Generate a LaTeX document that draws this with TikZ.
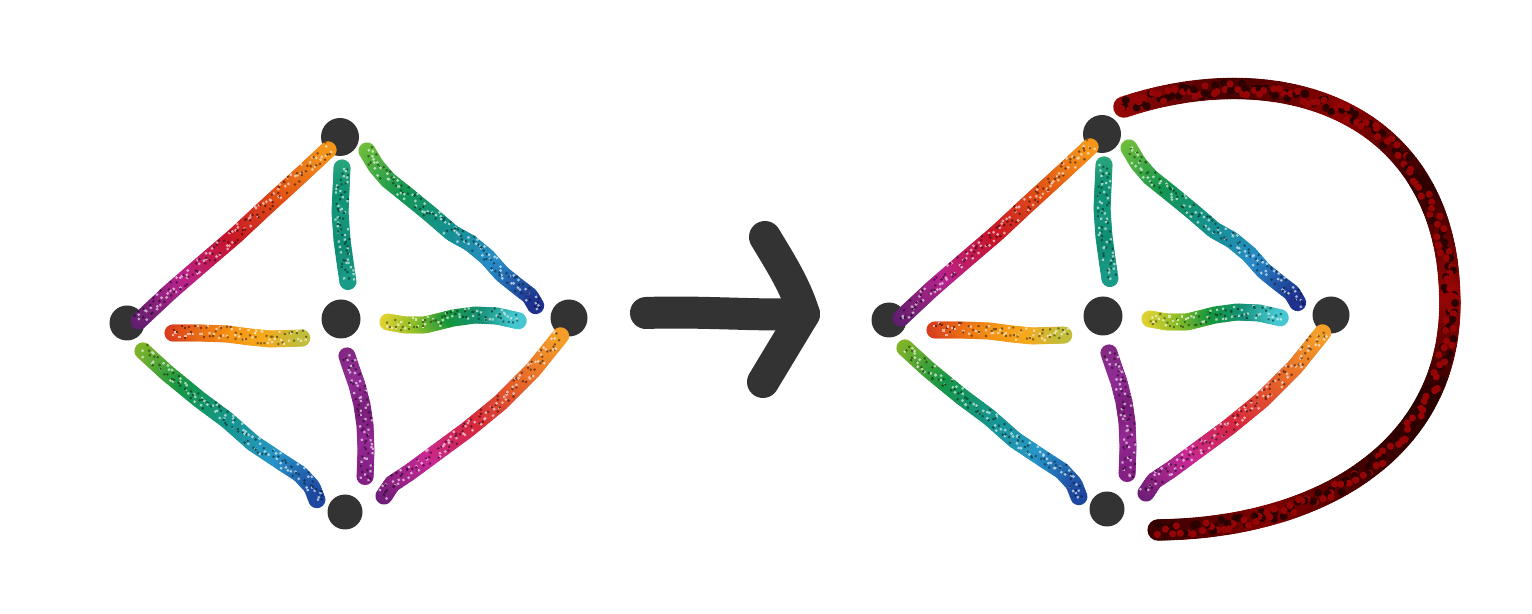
\documentclass[tikz,border=0pt]{standalone}
\usetikzlibrary{decorations.markings}
\definecolor{ink}{RGB}{51,51,51}
\definecolor{blobdark}{RGB}{45,0,0}
\definecolor{blobred}{RGB}{150,5,5}
\pgfmathsetseed{42}
\def\gcol{%
 \pgfmathsetmacro\gf{4*\pgfkeysvalueof{/pgf/decoration/mark info/distance from start}/\pgfdecoratedpathlength}%
 \pgfmathtruncatemacro\gi{min(\gf,3.999)}%
 \pgfmathsetmacro\gp{max(0,min(100,100-100*(\gf-\gi)))}%
 \ifcase\gi \colorlet{gc}{gA!\gp!gB}\or \colorlet{gc}{gB!\gp!gC}\or \colorlet{gc}{gC!\gp!gD}\or \colorlet{gc}{gD!\gp!gE}\fi}
\tikzset{
 vtx/.style={circle,fill=ink,inner sep=0pt,minimum size=#1},
 grad/.code n args={5}{\definecolor{gA}{RGB}{#1}\definecolor{gB}{RGB}{#2}\definecolor{gC}{RGB}{#3}\definecolor{gD}{RGB}{#4}\definecolor{gE}{RGB}{#5}},
 gw/.code={\def\gr{#1}},
 gw=4.3pt,
 glit/.style={decoration={markings,
   mark=between positions 0 and 1 step 1.5pt with {\gcol\fill[gc] (0pt,0pt) circle[radius=\gr];}},decorate},
 speck/.style={decoration={markings,
   mark=between positions 0 and 1 step 1.6pt with {\gcol
     \fill[gc!40!white] ({rand*1pt},{rand*3.3pt}) rectangle ++(1.1pt,1.1pt);
     \fill[gc!55!black] ({rand*1pt},{rand*3.3pt}) rectangle ++(1pt,1pt);}},decorate},
 mottle/.style={decoration={markings,
   mark=between positions 0 and 1 step 3pt with {%
     \fill[blobdark] ({rand*1.5pt},{rand*3pt}) circle[radius=2pt];
     \fill[blobred] ({rand*1.5pt},{rand*3pt}) circle[radius=1.8pt];}},decorate},
 edge/.style n args={5}{grad={#1}{#2}{#3}{#4}{#5},postaction={glit},postaction={speck}},
 redarc/.style n args={5}{grad={#1}{#2}{#3}{#4}{#5},gw=5.4pt,postaction={glit},postaction={mottle}},
 arrowink/.style={draw=ink,line width=16pt,line cap=round,line join=round}
}
\newcommand\onegraph[1]{%
 \node[vtx=19pt] (#1t) at (340,137) {};
 \node[vtx=17.5pt] (#1l) at (127,323) {};
 \node[vtx=19.5pt] (#1c) at (341,319) {};
 \node[vtx=18.5pt] (#1r) at (569,318) {};
 \node[vtx=17.5pt] (#1b) at (345,512) {};
 \coordinate (#1e1s) at (139,321); \coordinate (#1e1e) at (329,149);
 \coordinate (#1e2s) at (342,168); \coordinate (#1e2e) at (348,282);
 \coordinate (#1e3s) at (367,151); \coordinate (#1e3e) at (537,308);
 \coordinate (#1e4s) at (173,333); \coordinate (#1e4e) at (304,338);
 \coordinate (#1e5s) at (388,322); \coordinate (#1e5e) at (519,321);
 \coordinate (#1e6s) at (143,351); \coordinate (#1e6e) at (317,500);
 \coordinate (#1e7s) at (347,356); \coordinate (#1e7e) at (365,479);
 \coordinate (#1e8s) at (384,496); \coordinate (#1e8e) at (562,334);
 \path[edge={95,30,110}{185,35,140}{200,20,40}{225,80,20}{245,150,25}]
   (#1e1s) -- (170,292) -- (200,266) -- (235,236) -- (265,208) -- (300,176) -- (#1e1e);
 \path[edge={40,165,125}{15,145,115}{20,150,125}{15,140,115}{25,155,135}]
   (#1e2s) -- (341,190) -- (340,212) -- (342,240) -- (345,262) -- (#1e2e);
 \path[edge={110,190,60}{20,150,80}{20,145,140}{40,140,200}{30,45,140}]
   (#1e3s) -- (376,166) -- (388,180) -- (408,196) -- (430,214) -- (452,233) -- (470,243) -- (487,257) -- (502,274) -- (517,286) -- (530,296) -- (#1e3e);
 \path[edge={215,60,30}{235,110,20}{245,150,20}{245,170,30}{190,190,60}]
   (#1e4s) -- (200,333) -- (227,334) -- (250,337) -- (270,339) -- (#1e4e);
 \path[edge={225,210,50}{140,190,40}{20,150,60}{20,145,120}{70,200,210}]
   (#1e5s) -- (405,325) -- (425,325) -- (453,318) -- (475,315) -- (497,316) -- (#1e5e);
 \path[edge={130,180,40}{20,150,70}{20,150,140}{40,150,200}{30,70,160}]
   (#1e6s) -- (167,373) -- (200,400) -- (227,420) -- (253,443) -- (283,463) -- (300,474) -- (312,487) -- (#1e6e);
 \path[edge={130,40,130}{145,45,150}{120,30,120}{150,40,150}{130,30,130}]
   (#1e7s) -- (351,368) -- (357,385) -- (362,405) -- (365,425) -- (366,450) -- (#1e7e);
 \path[edge={110,30,120}{200,40,150}{215,40,60}{230,100,40}{245,160,40}]
   (#1e8s) -- (392,484) -- (410,472) -- (433,455) -- (467,430) -- (500,403) -- (533,370) -- (#1e8e);
}
\begin{document}
\begin{tikzpicture}[x=0.5pt,y=-0.5pt]
\useasboundingbox (0,0) rectangle (1532,614);
\fill[white] (0,0) rectangle (1532,614);
% left graph
\onegraph{L}
% arrow
\coordinate (a0) at (646,313); \coordinate (a1) at (804,314);
\coordinate (h0) at (765,237); \coordinate (h1) at (763,382);
\draw[arrowink] (a0) .. controls (700,311) and (760,316) .. (a1);
\draw[arrowink] (h0) .. controls (780,262) and (795,285) .. (a1) -- (h1);
% right graph
\begin{scope}[shift={(762,-3)}]
\onegraph{R}
\end{scope}
% red arc (two halves, drawn as fine polylines)
\coordinate (r0) at (1124,107); \coordinate (rm) at (1450,303); \coordinate (r1) at (1158,530);
\path[redarc={150,8,8}{70,0,0}{140,0,0}{50,0,0}{150,5,5}]
  plot[variable=\t,domain=0:1,samples=40]
  ({(1-\t)^3*1124+3*(1-\t)^2*\t*1280+3*(1-\t)*\t^2*1450+\t^3*1450},
   {(1-\t)^3*107+3*(1-\t)^2*\t*55+3*(1-\t)*\t^2*110+\t^3*303});
\path[redarc={150,5,5}{40,0,0}{70,0,0}{130,0,0}{60,0,0}]
  plot[variable=\t,domain=0:1,samples=40]
  ({(1-\t)^3*1450+3*(1-\t)^2*\t*1450+3*(1-\t)*\t^2*1320+\t^3*1158},
   {(1-\t)^3*303+3*(1-\t)^2*\t*450+3*(1-\t)*\t^2*528+\t^3*530});
\end{tikzpicture}
\end{document}
